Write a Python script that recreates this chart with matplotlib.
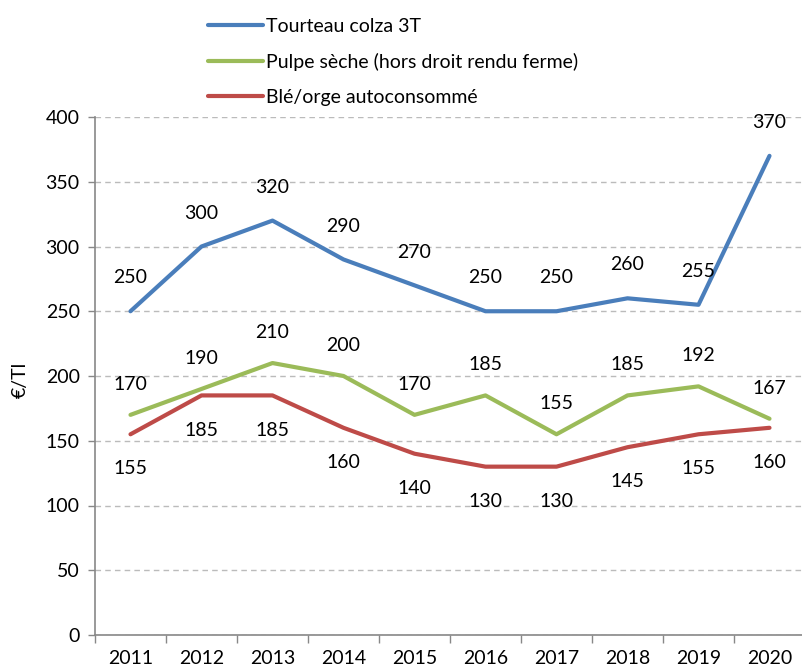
import matplotlib
matplotlib.use("Agg")
import matplotlib.pyplot as plt
from matplotlib.ticker import FixedLocator, MultipleLocator

years = ["2011", "2012", "2013", "2014", "2015", "2016", "2017", "2018", "2019", "2020"]
tourteau = [250, 300, 320, 290, 270, 250, 250, 260, 255, 370]
pulpe = [170, 190, 210, 200, 170, 185, 155, 185, 192, 167]
ble = [155, 185, 185, 160, 140, 130, 130, 145, 155, 160]
names = ["Tourteau colza 3T", "Pulpe sèche (hors droit rendu ferme)", "Blé/orge autoconsommé"]
colors = ["#4A7EBB", "#9BBB59", "#BE4B48"]

FS = 14
plt.rcParams['font.family'] = ['Lato', 'DejaVu Sans']
fig = plt.figure(figsize=(8.03, 6.71), dpi=100)
ax = fig.add_axes([95/803, 1-635/671, 710/803, 518/671])

x = list(range(len(years)))
series = [tourteau, pulpe, ble]
offsets = [24, 22, -25]
lines = []
for vals, c, off, nm in zip(series, colors, offsets, names):
    ln, = ax.plot(x, vals, color=c, lw=3, solid_capstyle='round', label=nm)
    lines.append(ln)
    for xi, v in zip(x, vals):
        ax.annotate(str(v), (xi, v), xytext=(0, off), textcoords='offset points',
                    ha='center', va='center', fontsize=FS, color='black')

ax.set_xlim(-0.5, 9.5)
ax.set_ylim(0, 400)
ax.yaxis.set_major_locator(MultipleLocator(50))
ax.set_xticks(x)
ax.set_xticklabels(years)
ax.xaxis.set_minor_locator(FixedLocator([i - 0.5 for i in range(11)]))
ax.tick_params(axis='x', which='major', length=0, pad=11, labelsize=FS)
ax.tick_params(axis='x', which='minor', length=6, color='#888888', width=1)
ax.tick_params(axis='y', length=5, color='#888888', width=1, labelsize=FS, pad=6)
for s in ['top', 'right']:
    ax.spines[s].set_visible(False)
for s in ['left', 'bottom']:
    ax.spines[s].set_color('#888888')
    ax.spines[s].set_linewidth(1.2)
ax.yaxis.grid(True, linestyle=(0, (4, 3)), color='#BBBBBB', lw=1)
ax.set_axisbelow(True)
fig.text(20/803, 1-380/671, "€/Tl", rotation=90, ha='center', va='center', fontsize=FS)

fig.legend(handles=lines, loc='upper left', bbox_to_anchor=(200/803, 1-10/671),
           frameon=False, fontsize=FS, handlelength=2.85, handletextpad=0.15,
           labelspacing=0.93, borderaxespad=0)

fig.savefig("out.png", dpi=100)
